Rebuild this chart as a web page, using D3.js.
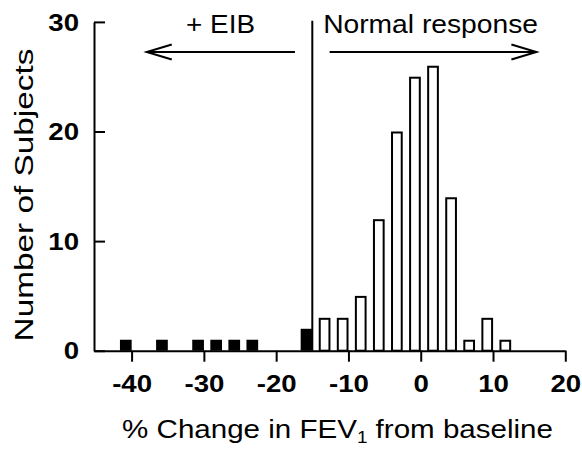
<!DOCTYPE html>
<html>
<head>
<meta charset="utf-8">
<script src="https://cdn.jsdelivr.net/npm/d3@7"></script>
<style>
  body { margin: 0; background: #fff; }
  svg { display: block; font-family: "Liberation Sans", Arial, sans-serif; }
</style>
</head>
<body>
<div id="chart"></div>
<script>
// Subjects with EIB (filled bars): bin centre in % change, and count
let eibBins = [-40.8, -35.8, -30.8, -28.3, -25.8, -23.3, -15.8];
let eibCounts = [1, 1, 1, 1, 1, 1, 2];

// Normal responders (open bars)
let normalBins = [-13.3, -10.8, -8.3, -5.8, -3.3, -0.8, 1.7, 4.2, 6.7, 9.2, 11.7];
let normalCounts = [3, 3, 5, 12, 20, 25, 26, 14, 1, 3, 1];

let xTicks = [-40, -30, -20, -10, 0, 10, 20];
let yTicks = [0, 10, 20, 30];

// cut-off between EIB and normal response
let cutoff = -15;
let binWidth = 1.62;

// arrow annotations, in data units: [from, to] and y level
let eibArrow = [-17.4, -37.9];
let normalArrow = [-12.6, 16];
let arrowLevel = 27.25;

const width = 582, height = 452;

let x = d3.scaleLinear().domain([-45.2, 20]).range([94, 565.3]);
let y = d3.scaleLinear().domain([0, 30]).range([350.7, 21.9]);

let svg = d3.select("#chart")
  .append("svg")
  .attr("width", width)
  .attr("height", height);

// stretch a text horizontally so it matches the wide lettering of the original
function stretchTo(sel, target) {
  sel.each(function () {
    const w = this.getComputedTextLength();
    const k = target / w;
    const t = d3.select(this).attr("transform") || "";
    d3.select(this).attr("transform", t + ` scale(${k},1)`);
  });
}

// BARS
let eibData = eibBins.map((d, i) => ({ c: d, n: eibCounts[i] }));
let normalData = normalBins.map((d, i) => ({ c: d, n: normalCounts[i] }));

svg.selectAll(".eib")
  .data(eibData)
  .join("rect")
  .attr("class", "eib")
  .attr("x", d => x(d.c - binWidth / 2))
  .attr("width", d => x(d.c + binWidth / 2) - x(d.c - binWidth / 2))
  .attr("y", d => y(d.n))
  .attr("height", d => y(0) - y(d.n))
  .attr("fill", "#000");

svg.selectAll(".normal")
  .data(normalData)
  .join("rect")
  .attr("class", "normal")
  .attr("x", d => x(d.c - binWidth / 2) + 1)
  .attr("width", d => x(d.c + binWidth / 2) - x(d.c - binWidth / 2) - 2)
  .attr("y", d => y(d.n) + 1)
  .attr("height", d => y(0) - y(d.n) - 1)
  .attr("fill", "#fff")
  .attr("stroke", "#000")
  .attr("stroke-width", 2);

// AXES
let xAxis = svg.append("g")
  .attr("transform", `translate(0,${y(0)})`)
  .call(d3.axisBottom(x).tickValues(xTicks).tickSize(11).tickSizeOuter(0).tickFormat(d => String(d)));

let yAxis = svg.append("g")
  .attr("transform", `translate(${x.range()[0]},0)`)
  .call(d3.axisLeft(y).tickValues(yTicks).tickSizeInner(-11).tickSizeOuter(0).tickPadding(15));

[xAxis, yAxis].forEach(g => {
  g.select(".domain").attr("stroke-width", 2);
  g.selectAll(".tick line").attr("stroke-width", 2);
  g.selectAll("text")
    .attr("font-family", "\"Liberation Sans\", Arial, sans-serif")
    .attr("font-size", 23)
    .attr("font-weight", "bold")
    .attr("fill", "#000");
});

xAxis.selectAll("text").attr("y", 41).attr("dy", 0).attr("transform", "scale(1.2,1)");
yAxis.selectAll("text").attr("x", -15 / 1.2).attr("dy", "0.36em").attr("transform", "scale(1.2,1)");

// cut-off line
svg.append("line")
  .attr("x1", x(cutoff)).attr("x2", x(cutoff))
  .attr("y1", 20.7).attr("y2", y(0))
  .attr("stroke", "#000")
  .attr("stroke-width", 2);

// ARROWS
function arrow(from, to) {
  const x0 = x(from), x1 = x(to), yy = y(arrowLevel);
  const dir = Math.sign(x1 - x0);
  svg.append("line")
    .attr("x1", x0).attr("x2", x1)
    .attr("y1", yy).attr("y2", yy)
    .attr("stroke", "#000").attr("stroke-width", 2);
  svg.append("path")
    .attr("d", `M${x1 - dir * 25},${yy - 7.5}L${x1},${yy}L${x1 - dir * 25},${yy + 7.5}`)
    .attr("fill", "none")
    .attr("stroke", "#000")
    .attr("stroke-width", 2);
}
arrow(eibArrow[0], eibArrow[1]);
arrow(normalArrow[0], normalArrow[1]);

// LABELS
svg.append("text")
  .attr("transform", `translate(${x(-27.7)},33)`)
  .attr("text-anchor", "middle")
  .attr("font-size", 26)
  .text("+ EIB")
  .call(stretchTo, 69);

svg.append("text")
  .attr("transform", `translate(${x(-13.5)},33)`)
  .attr("font-size", 26)
  .text("Normal response")
  .call(stretchTo, 215);

let xTitle = svg.append("text")
  .attr("transform", "translate(337.5,438)")
  .attr("text-anchor", "middle")
  .attr("font-size", 25);
xTitle.append("tspan").text("% Change in FEV");
xTitle.append("tspan").attr("font-size", 16).attr("dy", 5).text("1");
xTitle.append("tspan").attr("dy", -5).text(" from baseline");
xTitle.call(stretchTo, 431);

svg.append("text")
  .attr("transform", "translate(33,195) rotate(-90)")
  .attr("text-anchor", "middle")
  .attr("font-size", 26)
  .text("Number of Subjects")
  .call(stretchTo, 293);
</script>
</body>
</html>
